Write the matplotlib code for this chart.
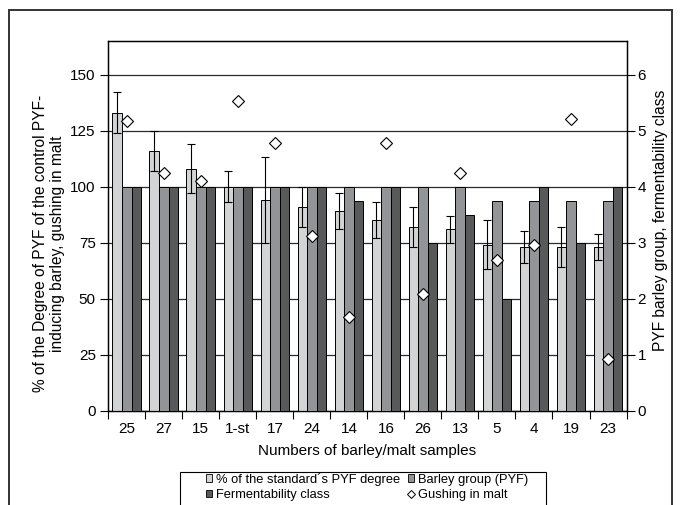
import matplotlib
matplotlib.use('Agg')
import matplotlib.pyplot as plt
from matplotlib.patches import Rectangle, Patch
from matplotlib.lines import Line2D
import numpy as np

samples = ['25', '27', '15', '1-st', '17', '24', '14', '16', '26', '13', '5', '4', '19', '23']
pyf_degree = [133, 116, 108, 100, 94, 91, 89, 85, 82, 81, 74, 73, 73, 73]
pyf_err = [9, 9, 11, 7, 19, 9, 8, 8, 9, 6, 11, 7, 9, 6]
barley_group = [4, 4, 4, 4, 4, 4, 4, 4, 4, 4, 3.75, 3.75, 3.75, 3.75]
ferm_class = [4, 4, 4, 4, 4, 4, 3.75, 4, 3, 3.5, 2, 4, 3, 4]
gushing = [5.17, 4.24, 4.09, 5.52, 4.78, 3.11, 1.67, 4.78, 2.08, 4.24, 2.69, 2.96, 5.2, 0.92]

plt.rcParams['font.family'] = ['Liberation Sans', 'DejaVu Sans']

c_light = '#d3d4d6'
c_mid = '#939497'
c_dark = '#58595b'

fig = plt.figure(figsize=(6.81, 5.05), dpi=100)
ax = fig.add_axes([0.159, 0.187, 0.761, 0.732])
ax2 = ax.twinx()

x = np.arange(len(samples))
w = 0.258

# left axis: percentage bars with error bars
ax.bar(x - w, pyf_degree, w, color=c_light, edgecolor='black', linewidth=0.7, zorder=3)
ax.errorbar(x - w, pyf_degree, yerr=pyf_err, fmt='none', ecolor='black',
            elinewidth=0.8, capsize=2.6, capthick=0.8, zorder=4)

# right axis: barley group, fermentability class and gushing
ax2.bar(x, barley_group, w, color=c_mid, edgecolor='black', linewidth=0.7, zorder=3)
ax2.bar(x + w, ferm_class, w, color=c_dark, edgecolor='black', linewidth=0.7, zorder=3)
ax2.plot(x, gushing, linestyle='none', marker='D', markersize=6.2,
         markerfacecolor='white', markeredgecolor='black', markeredgewidth=0.8, zorder=5)

ax.set_xlim(-0.5, len(samples) - 0.5)
ax.set_ylim(0, 165)
ax2.set_ylim(0, 6.6)

ax.set_yticks(np.arange(0, 151, 25))
ax2.set_yticks(np.arange(0, 7, 1))
ax.yaxis.grid(True, color='#2a2a2a', linewidth=0.9)
ax.set_axisbelow(True)

# category boundaries get the tick marks, labels sit between them
ax.set_xticks(np.arange(-0.5, len(samples), 1))
ax.set_xticklabels([])
ax.set_xticks(x, minor=True)
ax.set_xticklabels(samples, minor=True, fontsize=11)
ax.tick_params(axis='x', which='major', direction='out', length=6, width=0.8)
ax.tick_params(axis='x', which='minor', length=0, pad=8)
ax.tick_params(axis='y', direction='out', length=6, width=0.8, pad=3, labelsize=11)
ax2.tick_params(axis='y', direction='out', length=6, width=0.8, pad=2, labelsize=11)

for a in (ax, ax2):
    for s in a.spines.values():
        s.set_linewidth(0.9)
        s.set_color('black')

ax.set_xlabel('Numbers of barley/malt samples', fontsize=11, labelpad=6)
ax.set_ylabel('% of the Degree of PYF of the control PYF-\ninducing barley, gushing in malt',
              fontsize=11.2, labelpad=3.5, linespacing=1.2)
ax.yaxis.label.set_y(0.451)
ax2.set_ylabel('PYF barley group, fermentability class', fontsize=11.2, labelpad=5)
ax2.yaxis.label.set_y(0.515)

handles = [
    Patch(facecolor=c_light, edgecolor='black', linewidth=0.6),
    Patch(facecolor=c_dark, edgecolor='black', linewidth=0.6),
    Patch(facecolor=c_mid, edgecolor='black', linewidth=0.6),
    Line2D([], [], linestyle='none', marker='D', markersize=4.5,
           markerfacecolor='white', markeredgecolor='black', markeredgewidth=0.7),
]
labels = ['% of the standard\u00b4s PYF degree', 'Fermentability class',
          'Barley group (PYF)', 'Gushing in malt']
leg = fig.legend(handles, labels, ncol=2, loc='upper left',
                 bbox_to_anchor=(0.302, 0.064), frameon=False,
                 handlelength=0.5, handleheight=0.5,
                 handletextpad=0.3, columnspacing=0.6, labelspacing=0.28,
                 borderpad=0, borderaxespad=0, prop={'size': 9.3})

# legend box, running off the bottom edge
fig.patches.append(Rectangle((180 / 681, -0.05), 366 / 681, 0.05 + 33 / 505,
                             transform=fig.transFigure, fill=False,
                             edgecolor='black', linewidth=0.8))

# outer frame around the figure
fig.patches.append(Rectangle((0.013, -0.1), 0.974, 1.08, transform=fig.transFigure,
                             fill=False, edgecolor='#333333', linewidth=1.4))

plt.savefig('out.png', dpi=100)
